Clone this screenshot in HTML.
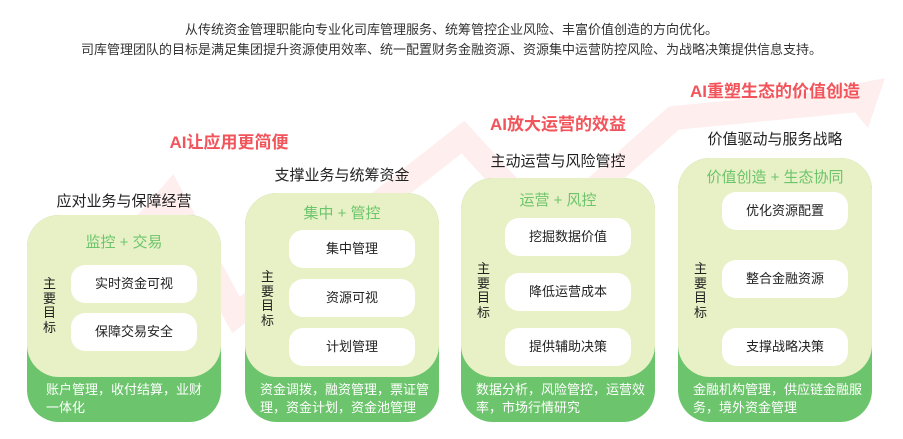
<!DOCTYPE html>
<html><head><meta charset="utf-8"><style>
*{margin:0;padding:0;box-sizing:border-box}
body{width:903px;height:439px;background:#fff;position:relative;overflow:hidden;font-family:"Liberation Sans","Noto Sans CJK SC",sans-serif;color:#222}
.t{position:absolute;white-space:nowrap}
.top{left:0;width:903px;text-align:center;font-size:13px;color:#333}
.ai{font-size:17px;font-weight:bold;color:#f2545b;transform:translateX(-50%)}
.ti{font-size:15px;color:#222;transform:translateX(-50%)}
.card{position:absolute;background:#6cc56c;border-radius:32px;bottom:17px;width:194px}
.inner{position:absolute;left:0;top:0;right:0;background:#e8f0c5;border-radius:32px}
.sub{position:absolute;left:0;right:0;text-align:center;color:#6cc56c;font-size:15px}
.box{position:absolute;left:44px;width:126px;height:38px;background:#fff;border-radius:14px;text-align:center;line-height:38px;font-size:13px}
.lbl{position:absolute;left:16px;width:14px;font-size:13px;line-height:14.5px}
.bt{position:absolute;left:15px;width:176px;bottom:5px;color:#fff;font-size:13px;line-height:18px;word-break:break-all}
</style></head><body>
<svg width="903" height="439" style="position:absolute;left:0;top:0">
<polyline points="40,345 171,195 236,315 463,137 548,230 674,118 858,100" fill="none" stroke="#feeeee" stroke-width="24" stroke-linejoin="miter"/>
<polygon points="885,78 835,88 868,128" fill="#feeeee"/>
</svg>
<div class="t top" style="top:19px">从传统资金管理职能向专业化司库管理服务、统筹管控企业风险、丰富价值创造的方向优化。</div>
<div class="t top" style="top:39px">司库管理团队的目标是满足集团提升资源使用效率、统一配置财务金融资源、资源集中运营防控风险、为战略决策提供信息支持。</div>
<div class="t ai" style="left:229px;top:128px">AI让应用更简便</div>
<div class="t ai" style="left:558px;top:110px">AI放大运营的效益</div>
<div class="t ai" style="left:775px;top:77px">AI重塑生态的价值创造</div>
<div class="t ti" style="left:124px;top:190px">应对业务与保障经营</div>
<div class="t ti" style="left:342px;top:164px">支撑业务与统筹资金</div>
<div class="t ti" style="left:558px;top:150px">主动运营与风险管控</div>
<div class="t ti" style="left:775px;top:128px">价值驱动与服务战略</div>

<div class="card" style="left:27px;top:215px">
 <div class="inner" style="height:162px"></div>
 <div class="sub" style="top:16px">监控 + 交易</div>
 <div class="box" style="top:50px">实时资金可视</div>
 <div class="box" style="top:98px">保障交易安全</div>
 <div class="lbl" style="top:62px">主要目标</div>
 <div class="bt" style="left:19px;width:162px">账户管理，收付结算，业财一体化</div>
</div>
<div class="card" style="left:245px;top:193px">
 <div class="inner" style="height:184px"></div>
 <div class="sub" style="top:9px">集中 + 管控</div>
 <div class="box" style="top:37px">集中管理</div>
 <div class="box" style="top:86px">资源可视</div>
 <div class="box" style="top:135px">计划管理</div>
 <div class="lbl" style="top:77px">主要目标</div>
 <div class="bt">资金调拨，融资管理，票证管理，资金计划，资金池管理</div>
</div>
<div class="card" style="left:461px;top:178px">
 <div class="inner" style="height:199px"></div>
 <div class="sub" style="top:11px">运营 + 风控</div>
 <div class="box" style="top:40px">挖掘数据价值</div>
 <div class="box" style="top:95px">降低运营成本</div>
 <div class="box" style="top:150px">提供辅助决策</div>
 <div class="lbl" style="top:84px">主要目标</div>
 <div class="bt">数据分析，风险管控，运营效率，市场行情研究</div>
</div>
<div class="card" style="left:678px;top:158px">
 <div class="inner" style="height:219px"></div>
 <div class="sub" style="top:8px">价值创造 + 生态协同</div>
 <div class="box" style="top:34px">优化资源配置</div>
 <div class="box" style="top:102px">整合金融资源</div>
 <div class="box" style="top:170px">支撑战略决策</div>
 <div class="lbl" style="top:104px">主要目标</div>
 <div class="bt">金融机构管理，供应链金融服务，境外资金管理</div>
</div>
</body></html>
